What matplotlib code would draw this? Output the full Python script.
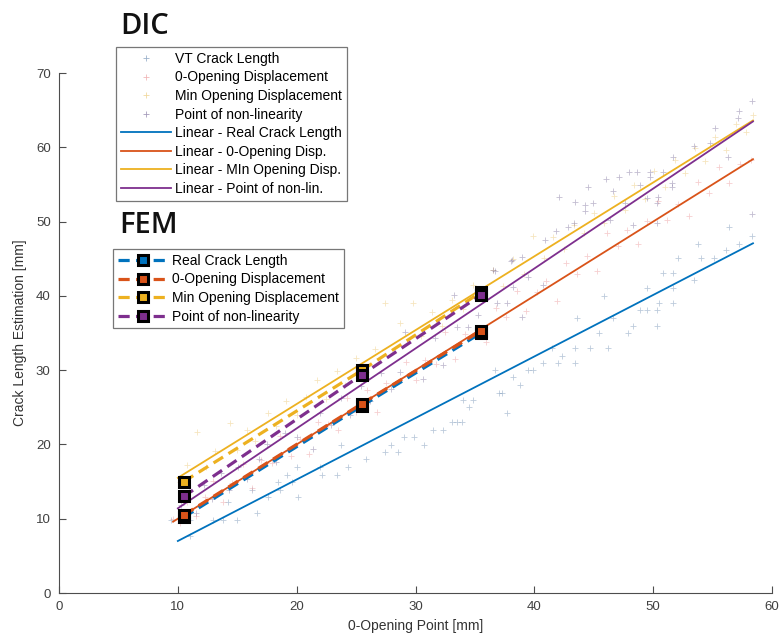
import matplotlib
matplotlib.use("Agg")
import matplotlib.pyplot as plt
import numpy as np

plt.rcParams['font.family'] = ['Liberation Sans', 'DejaVu Sans']

# ---------------- data ----------------
# DIC scatter: VT crack length
vt_x = [11.0, 9.4, 10.6, 11.0, 13.0, 13.8, 15.0, 16.7, 14.2, 17.6, 20.1, 16.2, 18.6, 18.4, 19.6,
        19.2, 22.1, 23.4, 24.3, 22.0, 20.0, 25.8, 23.7, 27.4, 27.9, 28.5, 30.7, 29.0, 29.9, 31.5,
        32.3, 33.1, 33.5, 33.9, 34.5, 34.0, 34.8, 37.7, 37.0, 37.3, 38.8, 38.2, 36.7, 39.5, 39.9,
        40.7, 42.0, 43.4, 42.3, 41.5, 43.4, 44.7, 46.2, 45.4, 47.9, 48.3, 50.3, 46.6, 43.6, 48.9,
        49.5, 50.3, 50.5, 51.7, 45.9, 49.5, 51.7, 53.4, 50.8, 51.7, 52.1, 54.0, 55.1, 56.1, 57.2,
        53.8, 58.3, 56.4]
vt_y = [7.7, 9.8, 9.8, 9.8, 9.8, 9.8, 9.8, 10.8, 12.2, 12.9, 12.9, 13.9, 13.9, 14.9, 14.9,
        15.9, 15.9, 15.9, 17.0, 17.0, 17.0, 18.0, 19.9, 19.0, 19.9, 19.0, 19.9, 21.0, 21.0, 21.9,
        21.9, 23.0, 23.0, 23.0, 25.0, 26.0, 26.0, 24.2, 26.9, 26.9, 28.0, 29.1, 30.0, 30.0, 30.0,
        31.0, 31.0, 31.0, 31.9, 33.0, 33.0, 33.0, 33.0, 35.0, 35.0, 35.9, 35.9, 37.0, 37.0, 38.1,
        38.1, 38.1, 39.0, 39.0, 40.0, 41.0, 41.0, 42.1, 43.1, 43.1, 45.1, 45.1, 45.1, 46.2, 47.0,
        47.0, 48.0, 49.3]

# DIC scatter: 0-opening displacement
zo_x = [9.6, 10.2, 10.8, 11.5, 12.3, 13.0, 13.8, 14.6, 15.5, 16.2, 17.0, 17.9, 18.6, 19.5, 20.3,
        21.0, 21.8, 22.6, 23.5, 24.2, 25.0, 25.9, 26.8, 27.5, 28.3, 29.2, 30.0, 30.8, 31.7, 32.5,
        33.3, 34.2, 35.0, 35.9, 36.8, 37.6, 38.5, 39.3, 40.2, 41.0, 41.9, 42.7, 43.6, 44.4, 45.3,
        46.1, 47.0, 47.8, 48.7, 49.5, 50.4, 51.2, 52.1, 53.0, 53.8, 54.7, 55.5, 56.4, 57.3, 58.2]
zo_y = [9.9, 9.4, 12.3, 10.3, 12.9, 15.1, 12.3, 14.8, 17.3, 14.2, 17.9, 17.5, 21.1, 18.4, 20.7,
        18.7, 23.0, 22.7, 21.9, 26.2, 24.3, 27.3, 24.4, 28.3, 28.1, 31.1, 28.7, 31.3, 30.8, 35.1,
        31.5, 34.9, 35.0, 33.8, 38.4, 37.1, 40.7, 37.9, 40.5, 42.0, 39.3, 44.4, 43.0, 45.3, 43.4,
        48.4, 46.7, 48.9, 47.0, 50.1, 52.8, 50.2, 52.3, 50.8, 55.3, 53.9, 57.4, 55.2, 57.7, 58.3]

# DIC scatter: min opening displacement
mo_x = [10.2, 10.8, 11.6, 12.4, 13.1, 14.4, 15.0, 15.8, 16.5, 17.6, 18.3, 19.1, 20.0, 20.8, 21.7,
        22.5, 23.4, 24.1, 25.0, 25.8, 26.6, 27.4, 28.7, 29.8, 30.5, 31.4, 32.2, 33.1, 34.0, 34.8,
        35.7, 36.5, 37.4, 38.2, 39.1, 39.9, 40.8, 41.6, 42.5, 43.3, 44.2, 45.0, 45.9, 46.7, 47.6,
        48.4, 49.3, 50.1, 51.0, 51.8, 52.7, 53.5, 54.4, 55.2, 56.1, 57.0, 57.8, 58.4]
mo_y = [15.0, 17.2, 21.7, 16.9, 19.1, 22.9, 19.3, 21.9, 20.4, 24.2, 22.5, 25.8, 23.9, 26.4, 28.7,
        26.1, 29.9, 28.0, 31.6, 29.7, 32.9, 39.0, 36.3, 39.0, 34.6, 37.8, 36.0, 39.5, 38.2, 41.4,
        40.0, 43.5, 41.3, 44.9, 43.0, 48.0, 45.1, 47.9, 46.3, 49.6, 48.4, 51.2, 49.8, 53.5, 51.6,
        54.9, 53.1, 56.8, 54.7, 58.3, 56.5, 59.9, 58.1, 61.4, 59.6, 63.1, 62.0, 64.3]

# DIC scatter: point of non-linearity
nl_x = [10.3, 10.9, 11.5, 12.2, 12.9, 13.6, 14.3, 15.1, 15.8, 16.8, 17.5, 18.3, 19.0, 20.0, 21.4,
        22.0, 22.9, 23.7, 24.5, 25.4, 26.2, 27.1, 27.9, 28.7, 29.1, 30.6, 31.6, 32.3, 33.2, 33.5,
        34.4, 35.3, 36.5, 36.7, 36.9, 37.7, 38.0, 38.1, 38.2, 39.0, 39.0, 39.5, 40.7, 40.9, 41.8,
        42.1, 42.8, 43.3, 43.4, 44.3, 44.3, 44.5, 44.9, 46.0, 46.4, 46.6, 47.1, 47.6, 48.0, 48.3,
        48.6, 48.9, 49.5, 49.7, 49.7, 50.3, 50.3, 50.4, 50.8, 51.6, 51.6, 51.7, 53.4, 54.8, 55.2,
        56.3, 57.1, 57.2, 58.3, 58.3]
nl_y = [11.9, 13.6, 10.8, 14.5, 12.6, 16.2, 13.9, 17.0, 15.4, 18.0, 20.1, 17.6, 21.5, 21.0, 19.4,
        24.2, 22.6, 26.3, 24.0, 27.8, 25.9, 29.6, 27.5, 29.7, 35.1, 28.8, 34.3, 30.7, 40.1, 35.8,
        35.8, 37.4, 43.5, 43.3, 39.0, 39.0, 44.7, 44.8, 41.2, 45.2, 37.1, 42.5, 41.4, 47.5, 48.7,
        53.3, 49.3, 49.8, 52.6, 52.2, 51.4, 54.6, 52.5, 55.7, 50.2, 54.1, 56.0, 52.5, 56.7, 49.5,
        56.7, 54.9, 53.2, 56.7, 56.0, 52.5, 49.8, 53.3, 56.7, 55.2, 54.6, 58.7, 60.2, 60.6, 62.6,
        58.7, 63.9, 64.9, 66.2, 51.0]

# DIC linear fits: (slope, intercept, x start, x end)
fit_real = (0.828, -1.28, 10.0, 58.4)
fit_zero = (1.000, 0.0, 9.6, 58.4)
fit_min = (0.994, 5.56, 10.0, 58.4)
fit_nonlin = (1.076, 0.64, 10.0, 58.4)

# FEM results
fem_x = [10.5, 25.5, 35.5]
fem_real = [10.2, 25.2, 35.0]
fem_zero = [10.5, 25.5, 35.3]
fem_min = [15.0, 30.0, 40.5]
fem_nonlin = [13.0, 29.4, 40.1]

dic_scatter_labels = ['VT Crack Length', '0-Opening Displacement',
                      'Min Opening Displacement', 'Point of non-linearity']
dic_fit_labels = ['Linear - Real Crack Length', 'Linear - 0-Opening Disp.',
                  'Linear - MIn Opening Disp.', 'Linear - Point of non-lin.']
fem_labels = ['Real Crack Length', '0-Opening Displacement',
              'Min Opening Displacement', 'Point of non-linearity']
xticks = [0, 10, 20, 30, 40, 50, 60]
yticks = [0, 10, 20, 30, 40, 50, 60, 70]

# ---------------- style ----------------
C_BLUE = '#0072BD'
C_ORANGE = '#D95319'
C_YELLOW = '#EDB120'
C_PURPLE = '#7E2F8E'
colors = [C_BLUE, C_ORANGE, C_YELLOW, C_PURPLE]
scatter_colors = ['#5a7fa8', '#e8888a', '#e8c060', '#6a5a8e']

fig = plt.figure(figsize=(7.79, 6.41), dpi=100)
ax = fig.add_axes([59/779, 48/641, (772-59)/779, (593-73)/641])

scat_handles = []
for (sx, sy), col, lab in zip([(vt_x, vt_y), (zo_x, zo_y), (mo_x, mo_y), (nl_x, nl_y)],
                              scatter_colors, dic_scatter_labels):
    h, = ax.plot(sx, sy, linestyle='none', marker='+', markersize=4, markeredgewidth=0.6,
                 color=col, alpha=0.4, label=lab)
    scat_handles.append(h)

fit_handles = []
for (m, b, x0, x1), col, lab in zip([fit_real, fit_zero, fit_min, fit_nonlin], colors, dic_fit_labels):
    xs = np.array([x0, x1])
    h, = ax.plot(xs, m * xs + b, color=col, linewidth=1.3, label=lab, zorder=3)
    fit_handles.append(h)

fem_handles = []
for ys, col, lab in zip([fem_real, fem_zero, fem_min, fem_nonlin], colors, fem_labels):
    h, = ax.plot(fem_x, ys, linestyle='--', dashes=(3.5, 2), linewidth=2.3, color=col,
                 marker='s', markersize=6.5, markerfacecolor=col, markeredgecolor='black',
                 markeredgewidth=2.2, label=lab, zorder=4)
    fem_handles.append(h)

ax.set_xlim(0, 60)
ax.set_ylim(0, 70)
ax.set_xticks(xticks)
ax.set_yticks(yticks)
for s in ['top', 'right']:
    ax.spines[s].set_visible(False)
for s in ['left', 'bottom']:
    ax.spines[s].set_color('#4d4d4d')
    ax.spines[s].set_linewidth(0.8)
ax.tick_params(direction='in', length=5, width=0.8, colors='#4d4d4d', labelsize=9.5,
               labelcolor='#404040', pad=6)
ax.set_xlabel('0-Opening Point [mm]', fontsize=10, color='#333333', labelpad=4)
ax.set_ylabel('Crack Length Estimation [mm]', fontsize=10, color='#333333', labelpad=6)

leg_kw = dict(loc='upper left', bbox_transform=fig.transFigure, borderaxespad=0,
              fontsize=10, handlelength=3.6, handletextpad=0.3, labelspacing=0.33,
              fancybox=False, edgecolor='#777777', framealpha=1, borderpad=0.35)
leg1 = fig.legend(handles=scat_handles + fit_handles,
                  bbox_to_anchor=(116/779, 1 - 47/641), **leg_kw)
leg1.get_frame().set_linewidth(0.9)
for lh in leg1.legend_handles[:4]:
    lh.set_alpha(0.6)

leg2 = fig.legend(handles=fem_handles, bbox_to_anchor=(113/779, 1 - 249/641), **leg_kw)
leg2.get_frame().set_linewidth(0.9)

fig.text(120/779, 1 - 33.5/641, 'DIC', fontsize=21, family=['Open Sans', 'DejaVu Sans'],
         weight='semibold', color='#111111')
fig.text(119/779, 1 - 233/641, 'FEM', fontsize=21, family=['Open Sans', 'DejaVu Sans'],
         weight='semibold', color='#111111')

fig.savefig('out.png', dpi=100, facecolor='white')
